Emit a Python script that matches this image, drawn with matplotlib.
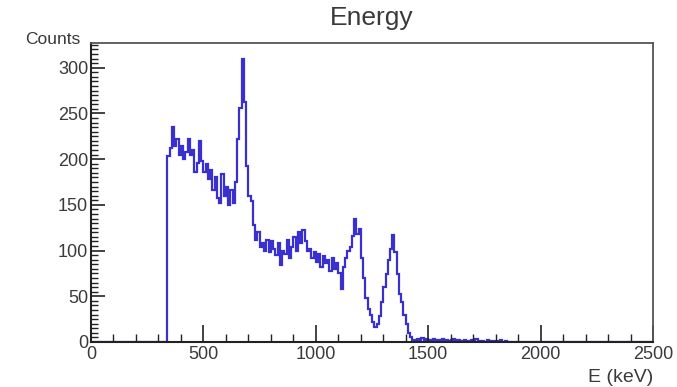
import numpy as np
import matplotlib.pyplot as plt
from matplotlib.ticker import MultipleLocator

plt.rcParams['font.family'] = ['Liberation Sans', 'DejaVu Sans']

# Energy spectrum, 10 keV bins from 0 to 2500 keV
bin_width = 10
e_min, e_max = 0, 2500

# counts per bin starting at 340 keV (bins below are empty)
start_main = 340
counts_main = [
    203, 212, 235, 214, 222, 205, 214, 200, 208, 222,   # 340-430
    204, 210, 186, 196, 220, 198, 186, 195, 178, 188,   # 440-530
    166, 180, 158, 152, 184, 160, 170, 150, 166, 152,   # 540-630
    175, 222, 256, 309, 262, 192, 160, 154, 128, 112,   # 640-730
    120, 104, 108, 100, 112, 98, 110, 102, 95, 108,     # 740-830
    84, 100, 96, 112, 92, 104, 115, 100, 120, 108,      # 840-930
    122, 110, 100, 102, 92, 98, 88, 96, 82, 94,         # 940-1030
    86, 90, 78, 92, 80, 86, 75, 58, 82, 92,             # 1040-1130
    100, 104, 116, 134, 118, 124, 92, 70, 48, 36,       # 1140-1230
    30, 22, 16, 20, 28, 44, 60, 74, 90, 102,            # 1240-1330
    117, 98, 74, 52, 44, 30, 20, 10, 5, 2,              # 1340-1430
]
# low tail after the last peak
start_tail = 1440
counts_tail = [
    1, 3, 2, 4, 2, 3, 1, 2, 3, 2,
    1, 2, 3, 1, 2, 1, 2, 3, 1, 2,
    1, 1, 2, 1, 0, 2, 1, 3, 1, 0,
    1, 0, 2, 1, 0, 1, 1, 0, 2, 0,
    1,
]

edges = np.arange(e_min, e_max + bin_width, bin_width)
counts = np.zeros(len(edges) - 1)
i0 = (start_main - e_min) // bin_width
counts[i0:i0 + len(counts_main)] = counts_main
i1 = (start_tail - e_min) // bin_width
counts[i1:i1 + len(counts_tail)] = counts_tail

fig = plt.figure(figsize=(6.77, 3.87), dpi=100)
ax = fig.add_axes([0.1344, 0.1163, 0.8302, 0.7726])

ax.stairs(counts, edges, color='#3a2fd0', lw=1.6)

ax.set_xlim(e_min, e_max)
ax.set_ylim(0, 327)

ax.xaxis.set_major_locator(MultipleLocator(500))
ax.xaxis.set_minor_locator(MultipleLocator(100))
ax.yaxis.set_major_locator(MultipleLocator(50))
ax.yaxis.set_minor_locator(MultipleLocator(5))

txt = '#3a3a3a'
ax.tick_params(axis='both', which='both', direction='in', colors='#222222',
               labelcolor=txt, labelsize=13)
ax.tick_params(axis='x', which='major', length=12, width=1.2, pad=3)
ax.tick_params(axis='x', which='minor', length=6, width=1.0)
ax.tick_params(axis='y', which='major', length=10, width=1.2, pad=2)
ax.tick_params(axis='y', which='minor', length=5, width=1.0)

for side in ['top', 'right']:
    ax.spines[side].set_color('#555555')
    ax.spines[side].set_linewidth(1.3)
for side in ['left', 'bottom']:
    ax.spines[side].set_color('#222222')
    ax.spines[side].set_linewidth(1.5)

fig.text(372 / 677, 0.985, 'Energy', ha='center', va='top',
         fontsize=19, color=txt)
fig.text(80 / 677, 1 - 44 / 387, 'Counts', ha='right', va='baseline',
         fontsize=12.5, color=txt)
fig.text(653 / 677, 1 - 382 / 387, 'E (keV)', ha='right', va='baseline',
         fontsize=14, color=txt)

fig.savefig('out.png', dpi=100)
